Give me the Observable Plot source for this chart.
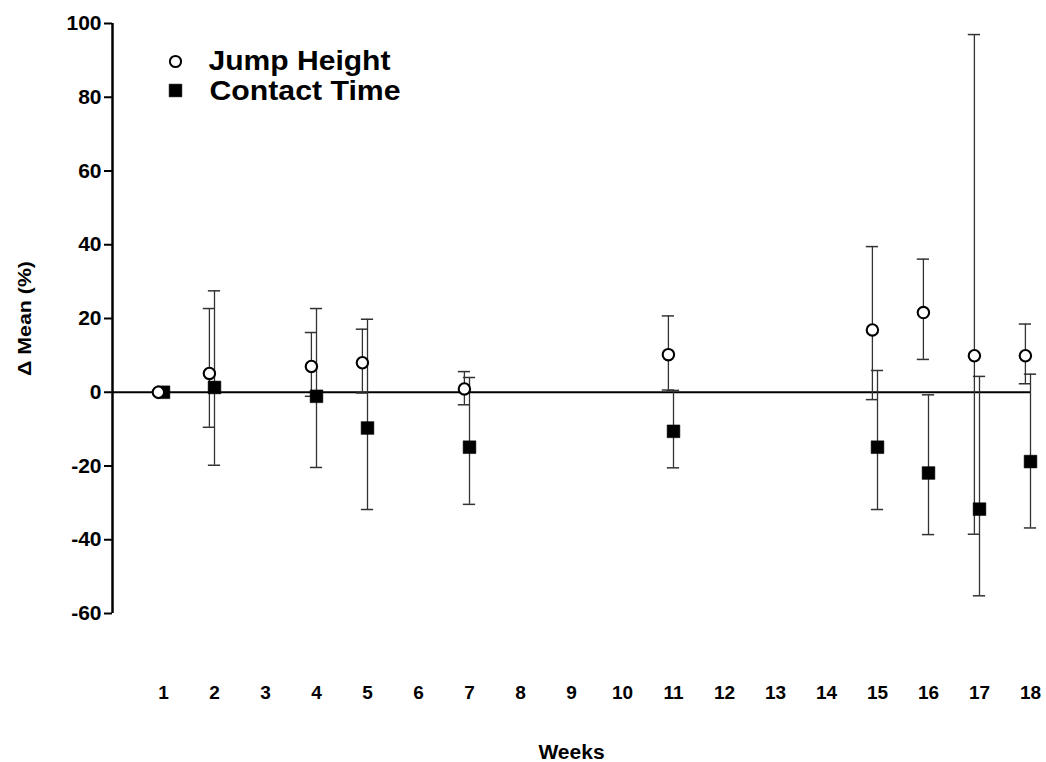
<!DOCTYPE html>
<html>
<head>
<meta charset="utf-8">
<script src="https://cdn.jsdelivr.net/npm/d3@7"></script>
<script src="https://cdn.jsdelivr.net/npm/@observablehq/plot@0.6"></script>
<style>
  html, body { margin: 0; padding: 0; background: #fff; }
  #chart svg { display: block; }
</style>
</head>
<body>
<div id="chart"></div>
<script>
// Weeks at which measurements were taken
const weeks = [1, 2, 4, 5, 7, 11, 15, 16, 17, 18];
// Jump Height: mean change (%) and error bar limits
const jumpMean  = [0, 5.1, 7.0, 8.0, 0.9, 10.2, 16.9, 21.6, 9.9, 9.9];
const jumpUpper = [0, 22.7, 16.2, 17.1, 5.6, 20.7, 39.5, 36.1, 97.0, 18.5];
const jumpLower = [0, -9.5, -1.1, -0.2, -3.4, 0.6, -2.0, 8.9, -38.5, 2.3];
// Contact Time: mean change (%) and error bar limits
const contactMean  = [0, 1.3, -1.1, -9.7, -14.9, -10.6, -14.9, -21.9, -31.7, -18.8];
const contactUpper = [0, 27.5, 22.7, 19.8, 4.0, 0.5, 5.9, -0.7, 4.3, 4.9];
const contactLower = [0, -19.8, -20.4, -31.8, -30.4, -20.5, -31.8, -38.6, -55.2, -36.8];
// Axis ticks
const xTicks = [1, 2, 3, 4, 5, 6, 7, 8, 9, 10, 11, 12, 13, 14, 15, 16, 17, 18];
const yTicks = [-60, -40, -20, 0, 20, 40, 60, 80, 100];
const seriesNames = ["Jump Height", "Contact Time"];

const jumpOffset = -0.1;   // circles drawn slightly left of the week
const capHalf = 0.12;

const jumpRows = weeks.map((w, i) => ({x: w + jumpOffset, mean: jumpMean[i], hi: jumpUpper[i], lo: jumpLower[i]}));
const contactRows = weeks.map((w, i) => ({x: w, mean: contactMean[i], hi: contactUpper[i], lo: contactLower[i]}));

const barColor = "#333";
const font = "'Liberation Sans', Arial, Helvetica, sans-serif";

function errorBars(rows) {
  return [
    Plot.ruleX(rows, {x: "x", y1: "lo", y2: "hi", stroke: barColor, strokeWidth: 1.3}),
    Plot.ruleY(rows, {y: "hi", x1: d => d.x - capHalf, x2: d => d.x + capHalf, stroke: barColor, strokeWidth: 1.5}),
    Plot.ruleY(rows, {y: "lo", x1: d => d.x - capHalf, x2: d => d.x + capHalf, stroke: barColor, strokeWidth: 1.5})
  ];
}

const chart = Plot.plot({
  width: 1046,
  height: 762,
  marginLeft: 112,
  marginRight: 16,
  marginTop: 23,
  marginBottom: 149,
  x: {domain: [0, 18]},
  y: {domain: [-60, 100]},
  style: {background: "#fff", color: "#000", fontFamily: font},
  marks: [
    Plot.axisY({ticks: yTicks, tickSize: 8, tickPadding: 3, strokeWidth: 2, tickFormat: d => String(d), label: null,
      fontSize: 21, fontWeight: "bold"}),
    Plot.axisX({ticks: xTicks, tickSize: 0, tickPadding: 72, tickFormat: d => String(d), label: null,
      fontSize: 19, fontWeight: "bold"}),
    Plot.ruleX([0], {stroke: "#000", strokeWidth: 2.5}),
    Plot.ruleY([0], {stroke: "#000", strokeWidth: 2.2}),
    ...errorBars(contactRows),
    ...errorBars(jumpRows),
    Plot.dot(contactRows, {x: "x", y: "mean", symbol: "square", r: 7.2, fill: "#000", stroke: "#000", strokeWidth: 0.5}),
    Plot.dot(jumpRows, {x: "x", y: "mean", symbol: "circle", r: 5.7, fill: "#fff", stroke: "#000", strokeWidth: 2.1}),
    // legend
    Plot.dot([seriesNames[0]], {frameAnchor: "top-left", dx: 63, dy: 38, symbol: "circle", r: 5.6, fill: "#fff", stroke: "#000", strokeWidth: 2}),
    Plot.dot([seriesNames[1]], {frameAnchor: "top-left", dx: 63, dy: 67, symbol: "square", r: 7.2, fill: "#000", stroke: "#000", strokeWidth: 0.5}),
    Plot.text([seriesNames[0]], {text: d => d, frameAnchor: "top-left", dx: 96, dy: 38, textAnchor: "start", lineAnchor: "middle",
      fontSize: 27, fontWeight: "bold", fill: "#000"}),
    Plot.text([seriesNames[1]], {text: d => d, frameAnchor: "top-left", dx: 97, dy: 68, textAnchor: "start", lineAnchor: "middle",
      fontSize: 27, fontWeight: "bold", fill: "#000"}),
    // axis titles
    Plot.text(["Δ Mean (%)"], {text: d => d, frameAnchor: "left", dx: -88, rotate: -90, textAnchor: "middle", lineAnchor: "middle",
      fontSize: 19, fontWeight: "bold", fill: "#000"}),
    Plot.text(["Weeks"], {text: d => d, frameAnchor: "bottom", dx: 0, dy: 139, textAnchor: "middle", lineAnchor: "middle",
      fontSize: 21, fontWeight: "bold", fill: "#000"})
  ]
});

// enforce tick label sizes
d3.select(chart).selectAll('g[aria-label="y-axis tick label"]').attr("font-size", 21).attr("font-weight", "bold");
d3.select(chart).selectAll('g[aria-label="x-axis tick label"]').attr("font-size", 19).attr("font-weight", "bold");

// widen text to match the reference proportions
const widths = {"Jump Height": 182, "Contact Time": 191, "Δ Mean (%)": 115};
d3.select(chart).selectAll("text").each(function() {
  const w = widths[this.textContent];
  if (w) { this.setAttribute("textLength", w); this.setAttribute("lengthAdjust", "spacingAndGlyphs"); }
});

document.getElementById("chart").appendChild(chart);
</script>
</body>
</html>
